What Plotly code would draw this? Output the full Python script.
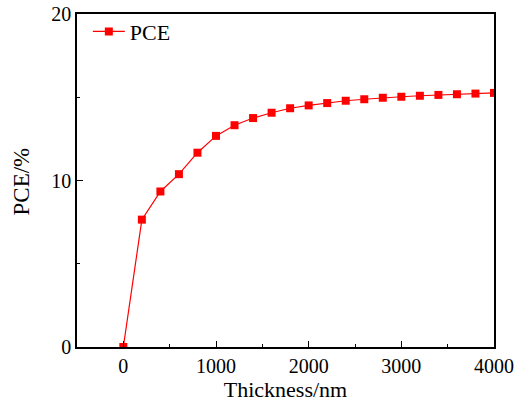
import plotly.graph_objects as go

thickness = [0, 200, 400, 600, 800, 1000, 1200, 1400, 1600, 1800, 2000,
             2200, 2400, 2600, 2800, 3000, 3200, 3400, 3600, 3800, 4000]
pce = [0, 7.65, 9.34, 10.38, 11.67, 12.68, 13.32, 13.75, 14.07, 14.34, 14.51,
       14.65, 14.79, 14.88, 14.97, 15.03, 15.09, 15.14, 15.18, 15.22, 15.26]

ff = "Liberation Serif"

fig = go.Figure()
fig.add_trace(go.Scatter(
    x=thickness, y=pce, mode="lines+markers", name="PCE",
    line=dict(color="#ff0000", width=1.2),
    marker=dict(symbol="square", size=8, color="#ff0000"),
))

fig.update_layout(
    width=522, height=403,
    margin=dict(l=77, r=28, t=14, b=56, autoexpand=False),
    paper_bgcolor="white", plot_bgcolor="white",
    font=dict(family=ff, size=20, color="black"),
    showlegend=True,
    legend=dict(x=0.026, y=1.01, xanchor="left", yanchor="top",
                bgcolor="rgba(0,0,0,0)", font=dict(family=ff, size=22, color="black"),
                itemwidth=32),
    xaxis=dict(
        range=[-500, 4000], tickvals=[0, 1000, 2000, 3000, 4000],
        ticks="inside", ticklen=6, tickwidth=1, tickcolor="black",
        tickfont=dict(family=ff, size=20, color="black"),
        ticklabeloverflow="allow",
        minor=dict(tickvals=[500, 1500, 2500, 3500], ticks="inside", ticklen=3, tickcolor="black"),
        showline=True, linecolor="black", linewidth=1.5, mirror=True,
        showgrid=False, zeroline=False, automargin=False,
        title=dict(text="Thickness/nm", font=dict(family=ff, size=22, color="black"), standoff=2),
    ),
    yaxis=dict(
        range=[0, 20], tickvals=[0, 10, 20],
        ticks="inside", ticklen=6, tickwidth=1, tickcolor="black",
        tickfont=dict(family=ff, size=20, color="black"),
        ticklabeloverflow="allow",
        minor=dict(tickvals=[5, 15], ticks="inside", ticklen=3, tickcolor="black"),
        showline=True, linecolor="black", linewidth=1.5, mirror=True,
        showgrid=False, zeroline=False, automargin=False,
    ),
    annotations=[dict(
        text="PCE/%", textangle=-90, showarrow=False,
        xref="paper", yref="paper", x=-0.132, y=0.497,
        xanchor="center", yanchor="middle",
        font=dict(family=ff, size=23, color="black"),
    )],
)

fig.write_html("out.html", config={"displayModeBar": False},
               post_script="document.body.style.margin='0';")
